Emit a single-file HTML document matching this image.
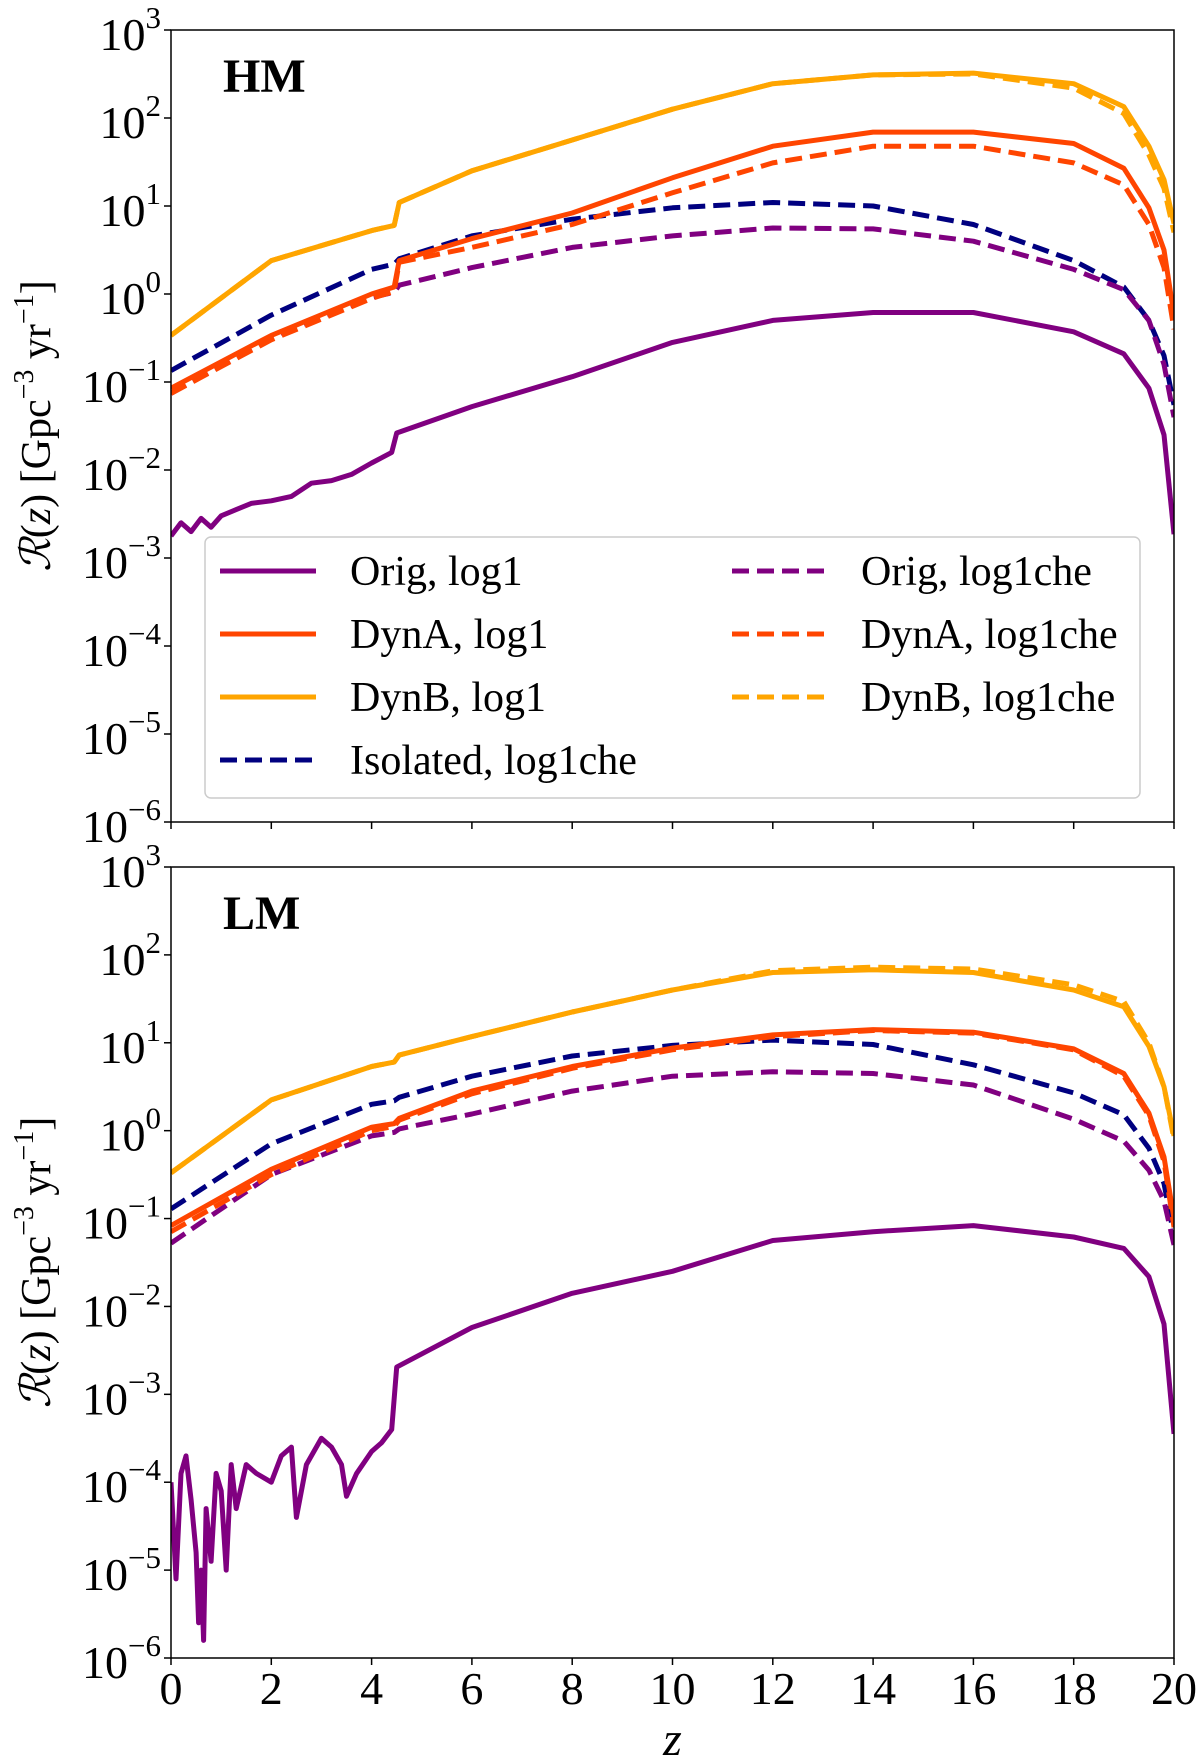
<!DOCTYPE html>
<html><head><meta charset="utf-8"><style>
body{margin:0;background:#fff}
svg{display:block;font-family:"Liberation Serif",serif}
</style></head><body>
<svg id="chart" width="1200" height="1762" viewBox="0 0 1200 1762" xmlns="http://www.w3.org/2000/svg"></svg>
<script>
const zTicks=[0,2,4,6,8,10,12,14,16,18,20];
const yTicks=[3,2,1,0,-1,-2,-3,-4,-5,-6];
const zs=[0,2,4,4.45,4.55,6,8,10,12,14,16,18,19,19.5,19.8,20];
// HM panel (log10 values)
const hmDynB=[-0.47,0.38,0.72,0.78,1.04,1.4,1.75,2.1,2.39,2.49,2.51,2.39,2.13,1.68,1.3,0.8];
const hmDynBche=[-0.47,0.38,0.72,0.78,1.04,1.4,1.75,2.1,2.39,2.49,2.5,2.34,2.05,1.58,1.2,0.7];
const hmDynA=[-1.07,-0.47,0.0,0.08,0.38,0.63,0.92,1.32,1.68,1.84,1.84,1.71,1.43,0.98,0.5,-0.24];
const hmDynAche=[-1.13,-0.52,-0.05,0.03,0.36,0.53,0.79,1.15,1.49,1.68,1.68,1.49,1.24,0.79,0.3,-0.4];
const hmIso=[-0.87,-0.24,0.28,0.34,0.4,0.66,0.85,0.98,1.04,1.0,0.79,0.38,0.08,-0.3,-0.7,-1.26];
const hmOrigche=[-1.13,-0.49,-0.04,0.02,0.1,0.3,0.53,0.66,0.75,0.74,0.6,0.28,0.05,-0.3,-0.8,-1.4];
const hmOrigZ=[0,0.2,0.4,0.6,0.8,1,1.3,1.6,2,2.4,2.8,3.2,3.6,4,4.4,4.5,6,8,10,12,14,16,18,19,19.5,19.8,20];
const hmOrig=[-2.75,-2.6,-2.7,-2.55,-2.65,-2.52,-2.45,-2.38,-2.35,-2.3,-2.15,-2.12,-2.05,-1.92,-1.8,-1.58,-1.28,-0.94,-0.55,-0.3,-0.21,-0.21,-0.43,-0.68,-1.07,-1.6,-2.73];
// LM panel
const lmDynB=[-0.48,0.35,0.73,0.78,0.86,1.07,1.35,1.6,1.8,1.83,1.8,1.6,1.41,0.96,0.5,-0.06];
const lmDynBche=[-0.48,0.35,0.73,0.78,0.86,1.07,1.35,1.6,1.82,1.86,1.84,1.66,1.47,1.0,0.5,-0.1];
const lmDynA=[-1.08,-0.44,0.04,0.08,0.14,0.45,0.73,0.94,1.09,1.15,1.12,0.93,0.65,0.2,-0.3,-1.0];
const lmDynAche=[-1.15,-0.5,0.0,0.05,0.12,0.42,0.71,0.92,1.07,1.14,1.11,0.92,0.62,0.17,-0.35,-1.1];
const lmIso=[-0.89,-0.15,0.3,0.34,0.38,0.62,0.85,0.97,1.03,0.98,0.75,0.43,0.18,-0.2,-0.6,-1.2];
const lmOrigche=[-1.28,-0.5,-0.06,-0.02,0.02,0.19,0.45,0.62,0.67,0.65,0.52,0.13,-0.12,-0.45,-0.8,-1.3];
const lmOrigZ=[0,0.1,0.2,0.3,0.4,0.5,0.55,0.6,0.65,0.7,0.8,0.9,1,1.1,1.2,1.3,1.5,1.7,2,2.2,2.4,2.5,2.7,3,3.2,3.4,3.5,3.7,4,4.2,4.4,4.5,6,8,10,12,14,16,18,19,19.5,19.8,20];
const lmOrig=[-4.0,-5.1,-3.9,-3.7,-4.2,-4.8,-5.6,-5.0,-5.8,-4.3,-4.9,-3.9,-4.1,-5.0,-3.8,-4.3,-3.8,-3.9,-4.0,-3.7,-3.6,-4.4,-3.8,-3.5,-3.6,-3.8,-4.16,-3.9,-3.65,-3.55,-3.4,-2.69,-2.24,-1.85,-1.6,-1.25,-1.15,-1.08,-1.21,-1.34,-1.66,-2.2,-3.45];

const NS="http://www.w3.org/2000/svg";
const svg=document.getElementById('chart');
const X0=171,X1=1174;
function xs(z){return X0+(X1-X0)*z/20;}
function mk(tag,attrs,parent){const e=document.createElementNS(NS,tag);for(const k in attrs)e.setAttribute(k,attrs[k]);(parent||svg).appendChild(e);return e;}
const COL={purple:'#800080',red:'#FF4500',orange:'#FFA500',navy:'#000080'};
const panels=[
 {name:'hm',top:30,bot:822,label:'HM',ticksLabeled:false,series:[
  [zs,hmDynB,COL.orange,false,'dynb-log1'],[zs,hmDynBche,COL.orange,true,'dynb-log1che'],
  [zs,hmIso,COL.navy,true,'isolated-log1che'],[zs,hmOrigche,COL.purple,true,'orig-log1che'],
  [zs,hmDynAche,COL.red,true,'dyna-log1che'],[zs,hmDynA,COL.red,false,'dyna-log1'],
  [hmOrigZ,hmOrig,COL.purple,false,'orig-log1']]},
 {name:'lm',top:867,bot:1658,label:'LM',ticksLabeled:true,series:[
  [zs,lmDynB,COL.orange,false,'dynb-log1'],[zs,lmDynBche,COL.orange,true,'dynb-log1che'],
  [zs,lmIso,COL.navy,true,'isolated-log1che'],[zs,lmOrigche,COL.purple,true,'orig-log1che'],
  [zs,lmDynAche,COL.red,true,'dyna-log1che'],[zs,lmDynA,COL.red,false,'dyna-log1'],
  [lmOrigZ,lmOrig,COL.purple,false,'orig-log1']]}
];
panels.forEach(p=>{
  const g=mk('g',{});
  
  
  const ys=v=>p.top+(3-v)*(p.bot-p.top)/9;
  const clipId='clip-'+p.name;
  const cp=mk('clipPath',{id:clipId},g);mk('rect',{x:X0,y:p.top,width:X1-X0,height:p.bot-p.top},cp);
  const lg=mk('g',{'clip-path':'url(#'+clipId+')'},g);
  p.series.forEach(s=>{
    const d=s[0].map((z,i)=>(i?'L':'M')+xs(z).toFixed(1)+','+ys(s[1][i]).toFixed(1)).join('');
    const path=mk('path',{d:d,fill:'none',stroke:s[2],'stroke-width':5,'stroke-linejoin':'round','stroke-dasharray':s[3]?'17,8':'none'},lg);
    
    
  });
  const frame=mk('rect',{x:X0,y:p.top,width:X1-X0,height:p.bot-p.top,fill:'none',stroke:'#000','stroke-width':1.5},g);
  
  
  yTicks.forEach(v=>{
    const y=ys(v);
    mk('line',{x1:X0-7,x2:X0,y1:y,y2:y,stroke:'#000','stroke-width':1.5},g);
    const t=mk('text',{x:X0-10,y:y+20,'text-anchor':'end','font-size':46},g);
    
    
    t.textContent='10';
    const sp=mk('tspan',{'font-size':31,dy:-22},t);
    sp.textContent=v<0?'\u2212'+(-v):String(v);
  });
  zTicks.forEach(z=>{
    mk('line',{x1:xs(z),x2:xs(z),y1:p.bot,y2:p.bot+7,stroke:'#000','stroke-width':1.5},g);
    if(p.ticksLabeled){
      const t=mk('text',{x:xs(z),y:p.bot+46,'text-anchor':'middle','font-size':46},g);
      
      
      t.textContent=String(z);
    }
  });
  const pl=mk('text',{x:223,y:p.top+62,'font-size':48,'font-weight':'bold'},g);
  
  
  pl.textContent=p.label;
  const cy=(p.top+p.bot)/2;
  const yl=mk('text',{x:0,y:0,'font-size':42,'text-anchor':'middle',transform:'translate(50,'+cy+') rotate(-90)'},g);
  
  
  yl.innerHTML='<tspan font-family="DejaVu Serif, serif" font-style="italic">ℛ</tspan>(<tspan font-style="italic">z</tspan>) [Gpc<tspan font-size="28" dy="-17">\u22123</tspan><tspan dy="17"> yr</tspan><tspan font-size="28" dy="-17">\u22121</tspan><tspan dy="17">]</tspan>';
});
const xt=mk('text',{x:(X0+X1)/2,y:1755,'text-anchor':'middle','font-size':48,'font-style':'italic'});


xt.textContent='z';
const leg=mk('g',{});


mk('rect',{x:205,y:537,width:935,height:261,rx:6,fill:'#fff','fill-opacity':0.85,stroke:'#ccc','stroke-width':1.5},leg);
const legLabels=['Orig, log1','DynA, log1','DynB, log1','Isolated, log1che','Orig, log1che','DynA, log1che','DynB, log1che'];
const legColors=[COL.purple,COL.red,COL.orange,COL.navy,COL.purple,COL.red,COL.orange];
const legDash=[false,false,false,true,true,true,true];
legLabels.forEach((lab,i)=>{
  const col=i<4?0:1,row=i<4?i:i-4;
  const y=571+row*63;
  const lx=col?732:220, tx=col?861:350;
  const e=mk('g',{},leg);
  
  
  mk('line',{x1:lx,x2:lx+96,y1:y,y2:y,stroke:legColors[i],'stroke-width':5,'stroke-dasharray':legDash[i]?'17,8':'none'},e);
  const t=mk('text',{x:tx,y:y+14,'font-size':42},e);
  t.textContent=lab;
});
</script>
</body></html>
